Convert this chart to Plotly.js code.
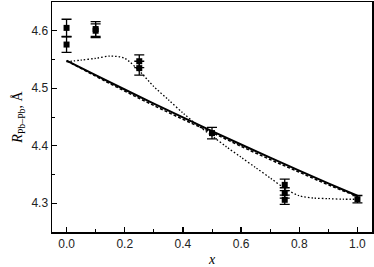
<!DOCTYPE html>
<html>
<head>
<meta charset="utf-8">
<script src="https://cdn.plot.ly/plotly-3.0.1.min.js"></script>
<style>html,body{margin:0;padding:0;background:#fff;}#chart{width:374px;height:267px;}</style>
</head>
<body>
<div id="chart"></div>
<script>
// Experimental points
const ptsX = [0, 0, 0.1, 0.1, 0.25, 0.25, 0.5, 0.75, 0.75, 0.75, 1.0];
const ptsY = [4.605, 4.576, 4.603, 4.600, 4.547, 4.535, 4.422, 4.332, 4.318, 4.306, 4.307];
const ptsErr = [0.015, 0.0135, 0.013, 0.012, 0.011, 0.012, 0.010, 0.010, 0.009, 0.008, 0.0065];

// Solid and dashed curves
const lineX = [0, 0.1, 0.2, 0.3, 0.4, 0.5, 0.6, 0.7, 0.8, 0.9, 1.0];
const solidY = [4.548, 4.5227, 4.4978, 4.4733, 4.4492, 4.4255, 4.4022, 4.3793, 4.3568, 4.3347, 4.313];
const dashedY = [4.548, 4.521, 4.495, 4.470, 4.446, 4.423, 4.399, 4.376, 4.354, 4.332, 4.312];

// Dotted curve
const dotX = [0, 0.05, 0.1, 0.15, 0.2, 0.25, 0.3, 0.35, 0.4, 0.45, 0.5, 0.55, 0.6, 0.65, 0.7, 0.75, 0.8, 0.85, 0.9, 0.95, 1.0];
const dotY = [4.546, 4.549, 4.552, 4.556, 4.552, 4.530, 4.503, 4.480, 4.457, 4.436, 4.417, 4.398, 4.380, 4.362, 4.344, 4.326, 4.313, 4.309, 4.308, 4.307, 4.307];

const xTicks = [0, 0.2, 0.4, 0.6, 0.8, 1.0];
const yTicks = [4.3, 4.4, 4.5, 4.6];

const traces = [
  {x: dotX, y: dotY, mode: 'lines', line: {color: '#000', width: 1.3, dash: '1.5px,2px', shape: 'spline', smoothing: 0.8}, showlegend: false, hoverinfo: 'skip'},
  {x: lineX, y: dashedY, mode: 'lines', line: {color: '#000', width: 1.5, dash: '3px,2px', shape: 'spline'}, showlegend: false, hoverinfo: 'skip'},
  {x: lineX, y: solidY, mode: 'lines', line: {color: '#000', width: 2, shape: 'spline'}, showlegend: false, hoverinfo: 'skip'},
  {x: ptsX, y: ptsY, mode: 'markers', marker: {symbol: 'square', size: 6, color: '#000'},
   error_y: {type: 'data', array: ptsErr, visible: true, color: '#000', thickness: 1.3, width: 5},
   showlegend: false}
];

const layout = {
  width: 374, height: 267,
  margin: {l: 52, r: 2, t: 2, b: 35},
  paper_bgcolor: '#fff', plot_bgcolor: '#fff',
  font: {family: 'Liberation Sans, Arial, sans-serif', size: 12, color: '#000'},
  xaxis: {
    range: [-0.05, 1.05], tickvals: xTicks, tickformat: '.1f',
    ticks: 'inside', ticklen: 5, tickwidth: 1.2, tickcolor: '#000',
    minor: {dtick: 0.1, ticks: 'inside', ticklen: 3, tickwidth: 1, tickcolor: '#000'},
    showline: true, linecolor: '#000', linewidth: 1.5, mirror: true,
    showgrid: false, zeroline: false,
    tickfont: {size: 12, color: '#222'},
    title: {text: '<i>x</i>', font: {family: 'Liberation Serif, Times New Roman, serif', size: 14}, standoff: 5}
  },
  yaxis: {
    range: [4.25, 4.65], tickvals: yTicks, tickformat: '.1f',
    ticks: 'inside', ticklen: 5, tickwidth: 1.2, tickcolor: '#000',
    minor: {dtick: 0.05, ticks: 'inside', ticklen: 3, tickwidth: 1, tickcolor: '#000'},
    showline: true, linecolor: '#000', linewidth: 1.5, mirror: true,
    showgrid: false, zeroline: false,
    tickfont: {size: 12, color: '#222'},
    title: {text: '<i>R</i><sub>Pb–Pb</sub>, Å', font: {family: 'Liberation Serif, Times New Roman, serif', size: 14}, standoff: 5}
  }
};

Plotly.newPlot('chart', traces, layout, {displayModeBar: false, staticPlot: true});
</script>
</body>
</html>
